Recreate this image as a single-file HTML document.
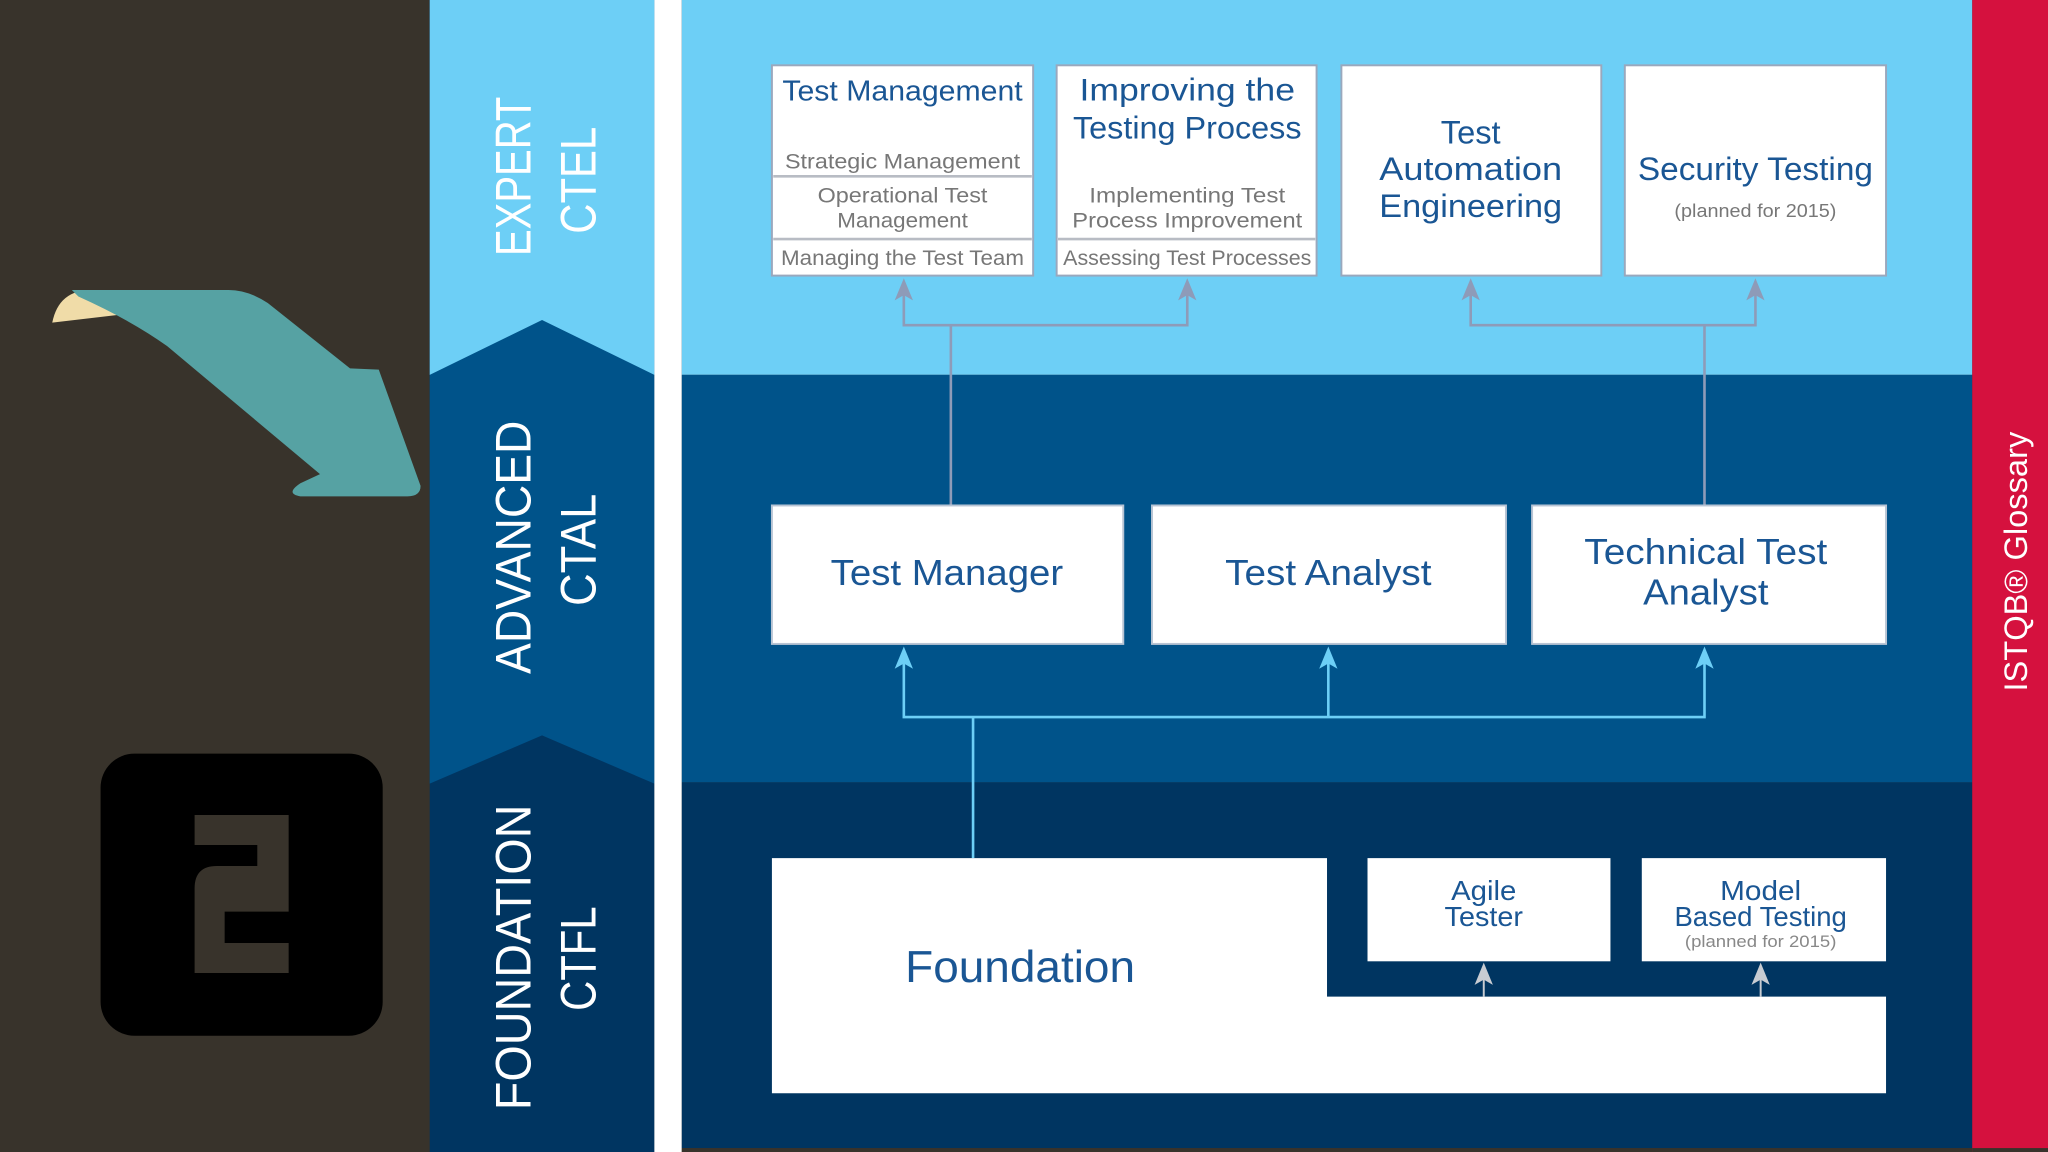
<!DOCTYPE html>
<html><head><meta charset="utf-8"><style>
html,body{margin:0;padding:0;background:#38332b;}
svg{display:block}
text{font-family:"Liberation Sans",sans-serif;}
</style></head><body>
<svg width="2048" height="1152" viewBox="0 0 1568 882" xmlns="http://www.w3.org/2000/svg">
<rect x="0" y="0" width="1568" height="882" fill="#38332b"/>
<!-- arrow -->
<path d="M40,247 Q45,222 70,222 L100,240 Z" fill="#f0dca8"/>
<path d="M55,222 L175,222 Q190,222 205,232 L268,282 L290,283 L322,372 Q322,380 312,380 L230,380 Q218,378 230,370 L245,363 L128,265 Q100,245 60,227 Z" fill="#56a2a3"/>
<!-- black box -->
<rect x="77" y="577" width="216" height="216" rx="26" fill="#000"/>
<path d="M149,624 H221 V698 H172 V722 H221 V745 H149 V680 Q149,663 166,663 H197 V647 H149 Z" fill="#38332b"/>
<!-- left band -->
<rect x="329" y="0" width="172" height="882" fill="#003561"/>
<path d="M329,0 H501 V600 L415,563 L329,600 Z" fill="#00538a"/>
<path d="M329,0 H501 V287 L415,245 L329,287 Z" fill="#6dcff6"/>
<rect x="501" y="0" width="21" height="882" fill="#ffffff"/>
<!-- main bands -->
<rect x="522" y="0" width="988" height="287" fill="#6dcff6"/>
<rect x="522" y="287" width="988" height="312" fill="#00538a"/>
<rect x="522" y="599" width="988" height="280" fill="#003561"/>
<rect x="522" y="879" width="988" height="3" fill="#38332b"/>
<rect x="1510" y="0" width="58" height="882" fill="#d5113e"/>
<rect x="1510" y="879" width="58" height="3" fill="#38332b"/>
<text transform="translate(1552,430) rotate(-90)" text-anchor="middle" font-size="25" fill="#fff">ISTQB® Glossary</text>
<!-- left labels -->
<g fill="#fff" font-size="38" text-anchor="middle">
<text transform="translate(406,135) rotate(-90)" textLength="122" lengthAdjust="spacingAndGlyphs">EXPERT</text>
<text transform="translate(456,138) rotate(-90)" textLength="82" lengthAdjust="spacingAndGlyphs">CTEL</text>
<text transform="translate(406,419) rotate(-90)" textLength="194" lengthAdjust="spacingAndGlyphs">ADVANCED</text>
<text transform="translate(456,421) rotate(-90)" textLength="86" lengthAdjust="spacingAndGlyphs">CTAL</text>
<text transform="translate(406,733) rotate(-90)" textLength="234" lengthAdjust="spacingAndGlyphs">FOUNDATION</text>
<text transform="translate(456,734) rotate(-90)" textLength="80" lengthAdjust="spacingAndGlyphs">CTFL</text>
</g>
<!-- expert boxes -->
<g fill="#fff" stroke="#9aa8bd" stroke-width="1.5">
<rect x="591" y="50" width="200" height="161"/>
<rect x="809" y="50" width="199" height="161"/>
<rect x="1027" y="50" width="199" height="161"/>
<rect x="1244" y="50" width="200" height="161"/>
</g>
<g stroke="#b8bcc4" stroke-width="2">
<line x1="592" y1="135" x2="790" y2="135"/>
<line x1="592" y1="183" x2="790" y2="183"/>
<line x1="810" y1="183" x2="1007" y2="183"/>
</g>
<g fill="#1a5694" text-anchor="middle">
<text x="691" y="77" font-size="22" textLength="184" lengthAdjust="spacingAndGlyphs">Test Management</text>
<text x="909" y="77" font-size="24" textLength="165" lengthAdjust="spacingAndGlyphs">Improving the</text>
<text x="909" y="106" font-size="24" textLength="175" lengthAdjust="spacingAndGlyphs">Testing Process</text>
<text x="1126" y="110" font-size="25">Test</text>
<text x="1126" y="138" font-size="25" textLength="140" lengthAdjust="spacingAndGlyphs">Automation</text>
<text x="1126" y="166" font-size="25" textLength="140" lengthAdjust="spacingAndGlyphs">Engineering</text>
<text x="1344" y="138" font-size="25" textLength="180" lengthAdjust="spacingAndGlyphs">Security Testing</text>
</g>
<g fill="#777" text-anchor="middle" font-size="16">
<text x="691" y="129" textLength="180" lengthAdjust="spacingAndGlyphs">Strategic Management</text>
<text x="691" y="155" textLength="130" lengthAdjust="spacingAndGlyphs">Operational Test</text>
<text x="691" y="174" textLength="100" lengthAdjust="spacingAndGlyphs">Management</text>
<text x="691" y="203" textLength="186" lengthAdjust="spacingAndGlyphs">Managing the Test Team</text>
<text x="909" y="155" textLength="150" lengthAdjust="spacingAndGlyphs">Implementing Test</text>
<text x="909" y="174" textLength="176" lengthAdjust="spacingAndGlyphs">Process Improvement</text>
<text x="909" y="203" textLength="190" lengthAdjust="spacingAndGlyphs">Assessing Test Processes</text>
<text x="1344" y="166" font-size="14" textLength="124" lengthAdjust="spacingAndGlyphs">(planned for 2015)</text>
</g>
<!-- expert connectors -->
<g stroke="#8e9bb8" stroke-width="2" fill="none">
<polyline points="692,222 692,249 909,249 909,222"/>
<line x1="728" y1="249" x2="728" y2="387"/>
<polyline points="1126,222 1126,249 1344,249 1344,222"/>
<line x1="1305" y1="249" x2="1305" y2="387"/>
</g>
<g fill="#8e9bb8">
<path d="M692,213 L699,230 L692,226 L685,230 Z"/>
<path d="M909,213 L916,230 L909,226 L902,230 Z"/>
<path d="M1126,213 L1133,230 L1126,226 L1119,230 Z"/>
<path d="M1344,213 L1351,230 L1344,226 L1337,230 Z"/>
</g>
<!-- advanced boxes -->
<g fill="#fff" stroke="#b8c4d4" stroke-width="1.5">
<rect x="591" y="387" width="269" height="106"/>
<rect x="882" y="387" width="271" height="106"/>
<rect x="1173" y="387" width="271" height="106"/>
</g>
<g fill="#1a5694" text-anchor="middle" font-size="28">
<text x="725" y="448" textLength="178" lengthAdjust="spacingAndGlyphs">Test Manager</text>
<text x="1017" y="448" textLength="158" lengthAdjust="spacingAndGlyphs">Test Analyst</text>
<text x="1306" y="432" textLength="186" lengthAdjust="spacingAndGlyphs">Technical Test</text>
<text x="1306" y="463" textLength="96" lengthAdjust="spacingAndGlyphs">Analyst</text>
</g>
<g stroke="#6dcff6" stroke-width="2" fill="none">
<polyline points="692,505 692,549 1305,549 1305,505"/>
<line x1="1017" y1="505" x2="1017" y2="549"/>
<line x1="745" y1="549" x2="745" y2="657"/>
</g>
<g fill="#6dcff6">
<path d="M692,495 L699,512 L692,508 L685,512 Z"/>
<path d="M1017,495 L1024,512 L1017,508 L1010,512 Z"/>
<path d="M1305,495 L1312,512 L1305,508 L1298,512 Z"/>
</g>
<!-- foundation -->
<path d="M591,657 H1016 V763 H1444 V837 H591 Z" fill="#fff"/>
<rect x="1047" y="657" width="186" height="79" fill="#fff"/>
<rect x="1257" y="657" width="187" height="79" fill="#fff"/>
<g fill="#1a5694" text-anchor="middle">
<text x="781" y="752" font-size="34" textLength="176" lengthAdjust="spacingAndGlyphs">Foundation</text>
<text x="1136" y="689" font-size="21" textLength="50" lengthAdjust="spacingAndGlyphs">Agile</text>
<text x="1136" y="709" font-size="21" textLength="60" lengthAdjust="spacingAndGlyphs">Tester</text>
<text x="1348" y="689" font-size="21" textLength="62" lengthAdjust="spacingAndGlyphs">Model</text>
<text x="1348" y="709" font-size="21" textLength="132" lengthAdjust="spacingAndGlyphs">Based Testing</text>
</g>
<text x="1348" y="725" font-size="13" fill="#888" text-anchor="middle" textLength="116" lengthAdjust="spacingAndGlyphs">(planned for 2015)</text>
<g stroke="#c8ccd2" stroke-width="1.5">
<line x1="1136" y1="745" x2="1136" y2="763"/>
<line x1="1348" y1="745" x2="1348" y2="763"/>
</g>
<g fill="#c8ccd2">
<path d="M1136,737 L1143,754 L1136,750 L1129,754 Z"/>
<path d="M1348,737 L1355,754 L1348,750 L1341,754 Z"/>
</g>
</svg>
</body></html>
